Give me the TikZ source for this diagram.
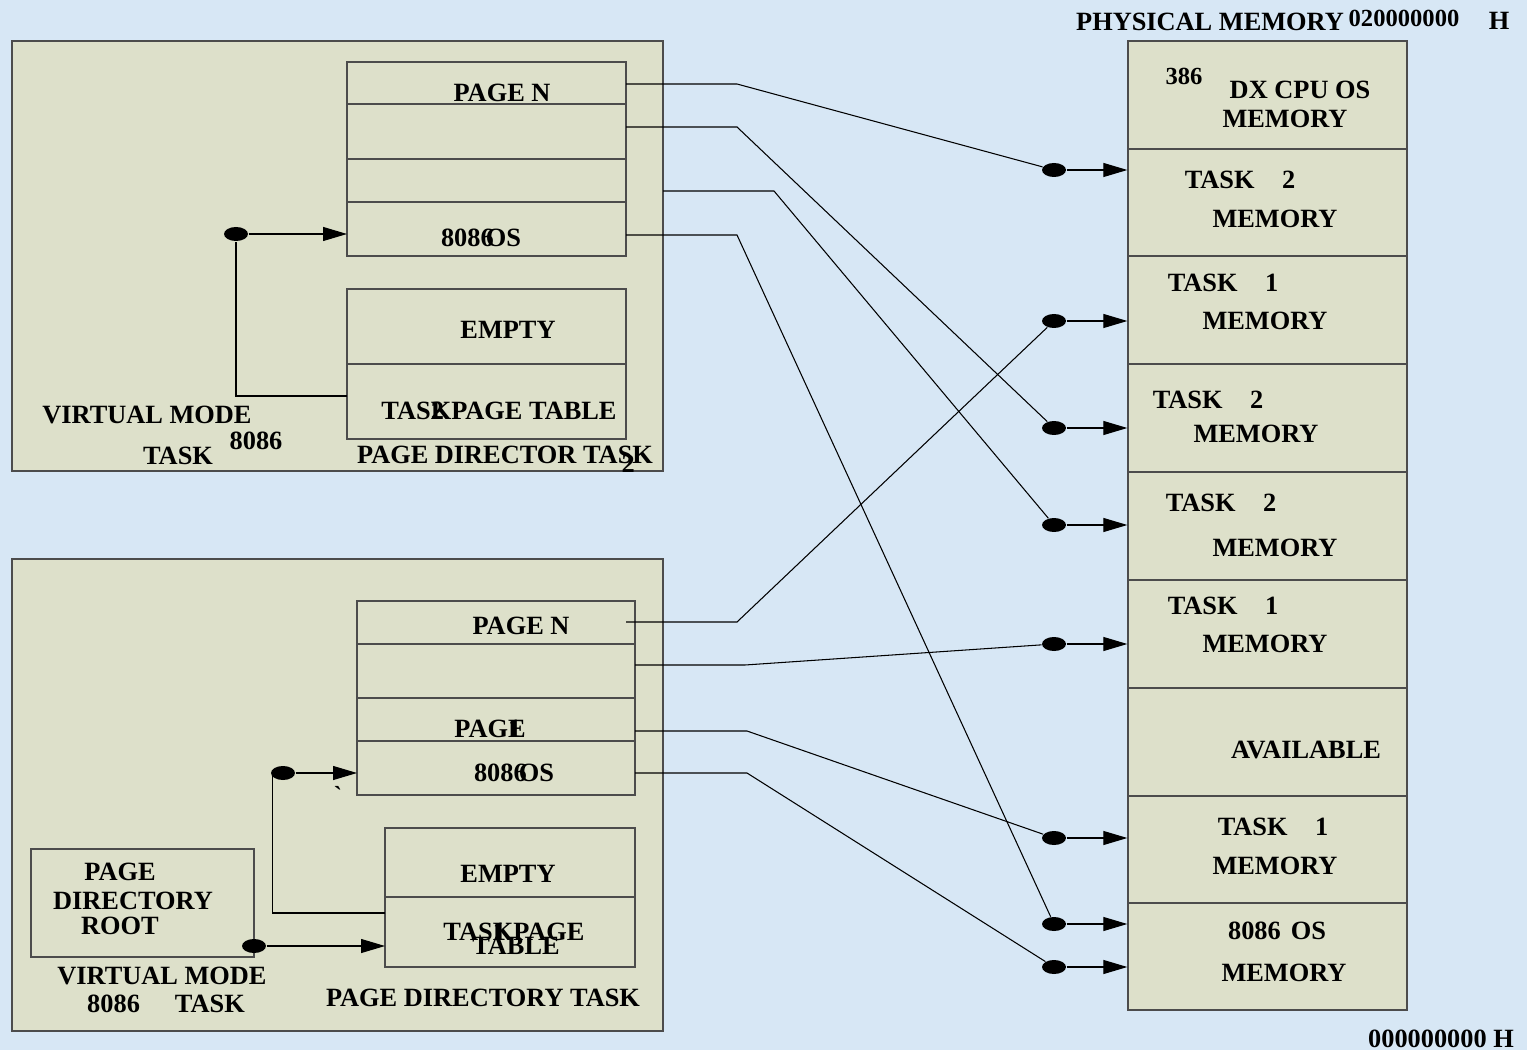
\documentclass[tikz,border=0pt]{standalone}
\usepackage{fontspec}
\setmainfont{Liberation Serif}
\usetikzlibrary{positioning, shapes.geometric, arrows.meta}
\definecolor{panel}{HTML}{DDE0CA}
\definecolor{sky}{HTML}{D7E7F5}

\begin{document}
\begin{tikzpicture}[x=0.02cm, y=-0.02cm, line width=0.6pt,
  lbl/.style={font=\bfseries\fontsize{15}{17}\selectfont, inner sep=0pt},
  small/.style={font=\bfseries\fontsize{14}{16}\selectfont, inner sep=0pt},
  blob/.style={ellipse, fill=black, minimum width=0.48cm, minimum height=0.28cm, inner sep=0pt},
  box/.style={draw=black!70, line width=0.8pt},
  tip/.style={-{Triangle[length=0.48cm, width=0.28cm]}}]
\fill[sky] (0,0) rectangle (1527,1050);
\useasboundingbox (0,0) rectangle (1527,1050);

% two tasks
\filldraw[box, fill=panel] (12,41) rectangle (663,471);
\filldraw[box, fill=panel] (12,559) rectangle (663,1031);

% task 2 tables
\draw[box] (347,62) rectangle (626,256);
\draw[box] (347,104) -- (626,104);
\draw[box] (347,159) -- (626,159);
\draw[box] (347,202) -- (626,202);
\draw[box] (347,289) rectangle (626,439);
\draw[box] (347,364) -- (626,364);

% task 1 tables
\draw[box] (357,601) rectangle (635,795);
\draw[box] (357,644) -- (635,644);
\draw[box] (357,698) -- (635,698);
\draw[box] (357,741) -- (635,741);
\draw[box] (385,828) rectangle (635,967);
\draw[box] (385,897) -- (635,897);
\draw[box] (31,849) rectangle (254,957);

% physical memory
\node[box, fill=panel, minimum width=5.58cm, minimum height=19.38cm] (mem) at (1267.5,525.5) {};
\foreach \y in {149,256,364,472,580,688,796,903}
  \draw[box] (1128,\y) -- (1407,\y);

\node[lbl] (phys) at (1210,22) {PHYSICAL MEMORY};
\node[small] (top) at (1404,18) {020000000};
\node[lbl] (toph) at (1499,21) {H};
\node[lbl] (bot) at (1441,1039) {000000000 H};

\node[small] (m1a) at (1184,76) {386};
\node[lbl] (m1b) at (1300,90) {DX CPU OS};
\node[lbl] (m1c) at (1285,119) {MEMORY};
\node[lbl] (m2a) at (1240,180) {TASK\hspace{0.55cm}2};
\node[lbl] (m2b) at (1275,219) {MEMORY};
\node[lbl] (m3a) at (1223,283) {TASK\hspace{0.55cm}1};
\node[lbl] (m3b) at (1265,321) {MEMORY};
\node[lbl] (m4a) at (1208,400) {TASK\hspace{0.55cm}2};
\node[lbl] (m4b) at (1256,434) {MEMORY};
\node[lbl] (m5a) at (1221,503) {TASK\hspace{0.55cm}2};
\node[lbl] (m5b) at (1275,548) {MEMORY};
\node[lbl] (m6a) at (1223,606) {TASK\hspace{0.55cm}1};
\node[lbl] (m6b) at (1265,644) {MEMORY};
\node[lbl] (m7a) at (1306,750) {AVAILABLE};
\node[lbl] (m8a) at (1273,827) {TASK\hspace{0.55cm}1};
\node[lbl] (m8b) at (1275,866) {MEMORY};
\node[lbl] (m9a) at (1277,931) {8086\hspace{0.2cm}OS};
\node[lbl] (m9b) at (1284,973) {MEMORY};

% task 2 texts
\node[lbl] (a1) at (502,93) {PAGE N};
\node[lbl] (a2) at (481,238) {8086\kern-0.3emOS};
\node[lbl] (a3) at (508,330) {EMPTY};
\node[lbl] (a4) at (499,411) {TAS\rlap{2}KPAGE TABLE};
\node[lbl] (a5) at (147,415) {VIRTUAL MODE};
\node[lbl] (a6) at (178,456) {TASK};
\node[lbl] (a7) at (256,441) {8086};
\node[lbl] (a8) at (505,459) {PAGE DIRECTOR TA\rlap{\kern0.15em\raisebox{-0.35em}{2}}SK};

% task 1 texts
\node[lbl] (b1) at (521,626) {PAGE N};
\node[lbl] (b2) at (490,729) {PAG\rlap{1}E};
\node[lbl] (b3) at (514,773) {8086\kern-0.3emOS};
\node[small] (b4) at (338,795) {\textasciigrave};
\node[lbl] (b5) at (508,874) {EMPTY};
\node[lbl] (b6) at (514,932) {TAS\rlap{1}KPAGE};
\node[lbl] (b7) at (516,946) {TABLE};
\node[lbl] (b8) at (120,872) {PAGE};
\node[lbl] (b9) at (133,901) {DIRECTORY};
\node[lbl] (b10) at (120,926) {ROOT};
\node[lbl] (b11) at (162,976) {VIRTUAL MODE};
\node[lbl] (b12) at (166,1004) {8086\hspace{0.7cm}TASK};
\node[lbl] (b13) at (483,998) {PAGE DIRECTORY TASK};

% dots at physical memory
\node[blob] (p1) at (1054,170) {};
\node[blob] (p2) at (1054,321) {};
\node[blob] (p3) at (1054,428) {};
\node[blob] (p4) at (1054,525) {};
\node[blob] (p5) at (1054,644) {};
\node[blob] (p6) at (1054,838) {};
\node[blob] (p7) at (1054,924) {};
\node[blob] (p8) at (1054,967) {};
\foreach \i in {1,...,8}
  \draw[tip] (p\i) -- (p\i -| mem.west);

% page directory entries
\coordinate (s1) at (626,84);
\coordinate (s2) at (626,127);
\coordinate (s3) at (663,191);
\coordinate (s4) at (626,235);
\coordinate (s5) at (626,622);
\coordinate (s6) at (635,665);
\coordinate (s7) at (635,731);
\coordinate (s8) at (635,773);
\draw (s1) -- ++(111,0) -- (p1);
\draw (s2) -- ++(111,0) -- (p3);
\draw (s3) -- ++(111,0) -- (p4);
\draw (s4) -- ++(111,0) -- (p7);
\draw (s5) -- ++(111,0) -- (p2);
\draw (s6) -- ++(110,0) -- (p5);
\draw (s7) -- ++(112,0) -- (p6);
\draw (s8) -- ++(112,0) -- (p8);

% inside the tasks
\node[blob] (q1) at (236,234) {};
\coordinate (t1) at (347,234);
\coordinate (t2) at (347,396);
\draw[tip] (q1) -- (t1);
\draw (t2) -- (q1 |- t2) -- (q1);
\node[blob] (q2) at (283,773) {};
\coordinate (t3) at (357,773);
\coordinate (t4) at (385,913);
\draw[tip] (q2) -- (t3);
\draw (t4) -| ([xshift=0.04cm]q2.west);
\node[blob] (q3) at (254,946) {};
\coordinate (t5) at (385,946);
\draw[tip] (q3) -- (t5);
\end{tikzpicture}
\end{document}
